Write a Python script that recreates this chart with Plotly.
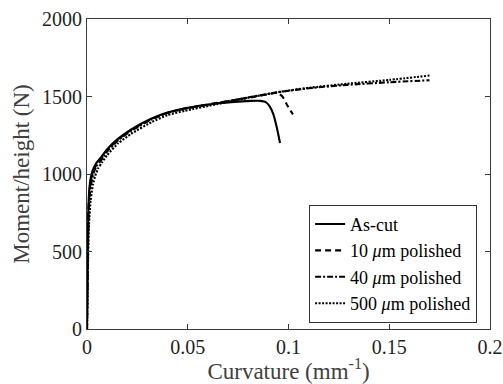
import plotly.graph_objects as go

# As-cut
x_ascut = [0, 0.0003, 0.0007, 0.0012, 0.002, 0.003, 0.0045, 0.0065, 0.01, 0.0155, 0.022, 0.0321, 0.04,
           0.0486, 0.0652, 0.075, 0.0817, 0.086, 0.0885, 0.0905, 0.0925, 0.0942, 0.0958]
y_ascut = [0, 400, 780, 910, 985, 1030, 1068, 1100, 1160, 1228, 1288, 1358, 1396,
           1424, 1457, 1467, 1472, 1472, 1465, 1440, 1385, 1300, 1200]

# 10 um polished
x_10 = [0, 0.0003, 0.0007, 0.0013, 0.0022, 0.0032, 0.0048, 0.0068, 0.01, 0.0155, 0.022, 0.0321, 0.04,
        0.0486, 0.0652, 0.0817, 0.09, 0.0945, 0.097, 0.0995, 0.1022]
y_10 = [0, 390, 760, 895, 975, 1022, 1060, 1093, 1152, 1224, 1285, 1355, 1395,
        1423, 1460, 1496, 1515, 1524, 1500, 1440, 1385]

# 40 um polished
x_40 = [0, 0.0003, 0.0008, 0.0014, 0.0025, 0.0035, 0.005, 0.007, 0.01, 0.0155, 0.022, 0.0321, 0.04,
        0.0486, 0.0652, 0.0817, 0.0958, 0.11, 0.1289, 0.15, 0.17]
y_40 = [0, 380, 740, 875, 965, 1015, 1055, 1088, 1145, 1218, 1279, 1353, 1394,
        1421, 1458, 1498, 1530, 1553, 1575, 1592, 1605]

# 500 um polished
x_500 = [0, 0.0004, 0.001, 0.0018, 0.003, 0.004, 0.0055, 0.0075, 0.01, 0.0155, 0.022, 0.0321, 0.04,
         0.0486, 0.0652, 0.0817, 0.0958, 0.11, 0.1289, 0.15, 0.17]
y_500 = [0, 350, 680, 830, 935, 985, 1035, 1075, 1122, 1198, 1260, 1335, 1380,
         1408, 1452, 1496, 1530, 1556, 1582, 1607, 1635]

x_ticks = [0, 0.05, 0.1, 0.15, 0.2]
x_ticklabels = ["0", "0.05", "0.1", "0.15", "0.2"]
y_ticks = [0, 500, 1000, 1500, 2000]

series = [
    ("As-cut", x_ascut, y_ascut, "solid"),
    ("10 <i>μ</i>m polished", x_10, y_10, "6px,4px"),
    ("40 <i>μ</i>m polished", x_40, y_40, "6px,2px,2px,2px"),
    ("500 <i>μ</i>m polished", x_500, y_500, "2px,1.5px"),
]

fig = go.Figure()
for name, xs, ys, dash in series:
    fig.add_trace(go.Scatter(x=xs, y=ys, mode="lines", name=name,
                             line=dict(color="black", width=2.1, dash=dash, shape="spline", smoothing=0.5)))

font_family = "Liberation Serif"
axis_common = dict(showgrid=False, zeroline=False, showline=True, linecolor="#3a3a3a", linewidth=1,
                   mirror="allticks", ticks="inside", ticklen=5, tickcolor="#3a3a3a", automargin=False,
                   tickfont=dict(family=font_family, size=20, color="#1f1f1f"))

fig.update_layout(
    template="none",
    width=503, height=384,
    margin=dict(l=87, r=13, t=19, b=55),
    paper_bgcolor="white", plot_bgcolor="white",
    font=dict(family=font_family, color="black"),
    xaxis=dict(range=[0, 0.2], tickvals=x_ticks, ticktext=x_ticklabels,
               title=dict(text="Curvature (mm<sup>-1</sup>)", font=dict(family=font_family, size=23, color="#404040"), standoff=3),
               **axis_common),
    yaxis=dict(range=[0, 2000], tickvals=y_ticks,
               title=dict(text="Moment/height (N)", font=dict(family=font_family, size=23, color="#404040"), standoff=5),
               **axis_common),
    legend=dict(x=0.968, y=0.02, xanchor="right", yanchor="bottom",
                bordercolor="#333333", borderwidth=1, bgcolor="white",
                font=dict(family=font_family, size=18, color="black"),
                tracegroupgap=0, itemwidth=30),
    showlegend=True,
)

fig.write_html("out.html")
